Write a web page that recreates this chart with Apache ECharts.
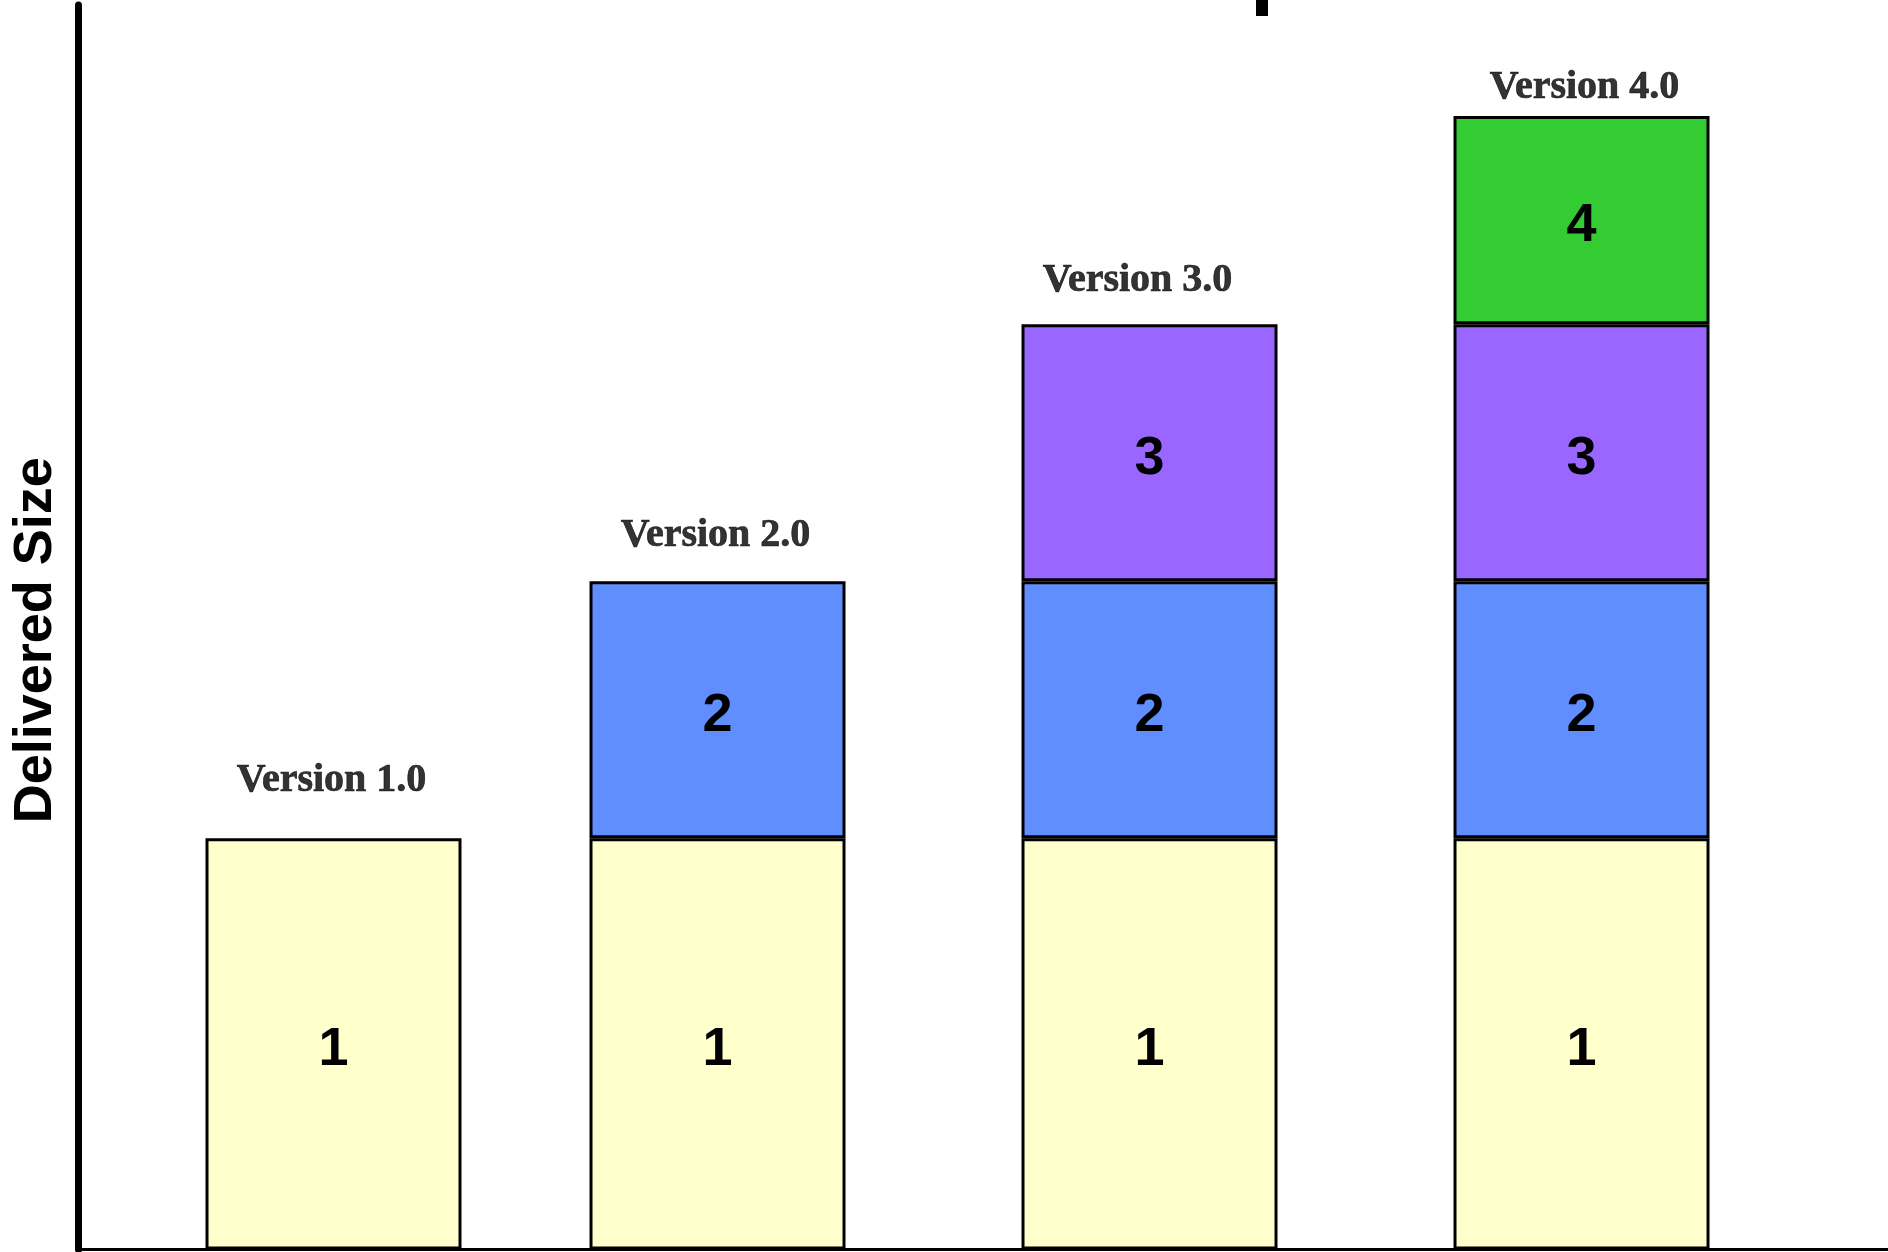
<!DOCTYPE html>
<html>
<head>
<meta charset="utf-8">
<script src="https://cdn.jsdelivr.net/npm/echarts@6/dist/echarts.min.js"></script>
<style>
  html, body { margin: 0; padding: 0; background: #ffffff; }
  #chart { width: 1888px; height: 1252px; }
</style>
</head>
<body>
<div id="chart"></div>
<script>
// ---- data ----
const versions = ['Version 1.0', 'Version 2.0', 'Version 3.0', 'Version 4.0'];
const releaseSlots = [0, 8, 17, 26];          // position of each release along the x axis
const componentNames = ['1', '2', '3', '4'];
const component1 = [8, 8, 8, 8];
const component2 = ['-', 5, 5, 5];
const component3 = ['-', '-', 5, 5];
const component4 = ['-', '-', '-', 4.05];
const yAxisTitle = 'Delivered Size';

// ---- styling (not data) ----
const segColors = ['#FFFFCC', '#618EFF', '#9966FF', '#33CC33'];
const versionLabelGap = [38, 26, 24, 8];
const versionLabelShift = [-2, -2, -12, 3];

const components = [component1, component2, component3, component4];
const num = v => (typeof v === 'number' ? v : 0);
const totals = versions.map((_, i) => components.reduce((s, c) => s + num(c[i]), 0));

// data stored as [size, slot] so the size dimension is the stacked one
const barSeries = components.map((vals, k) => ({
  name: componentNames[k],
  type: 'bar',
  stack: 'size',
  barWidth: 256,
  encode: { x: 1, y: 0 },
  dimensions: ['size', 'slot'],
  data: vals.map((v, i) => [v, releaseSlots[i]]),
  itemStyle: { color: segColors[k], borderColor: '#000000', borderWidth: 3 },
  label: {
    show: true,
    position: 'inside',
    offset: [0, 6],
    formatter: () => componentNames[k],
    color: '#000000',
    fontFamily: "'Liberation Sans', Arial, sans-serif",
    fontWeight: 'bold',
    fontSize: 54
  },
  emphasis: { disabled: true },
  silent: true,
  animation: false
}));

const versionSeries = {
  type: 'scatter',
  symbolSize: 0,
  silent: true,
  animation: false,
  data: versions.map((name, i) => ({
    value: [releaseSlots[i], totals[i]],
    name: name,
    label: { distance: versionLabelGap[i], offset: [versionLabelShift[i], 0] }
  })),
  label: {
    show: true,
    position: 'top',
    formatter: p => p.name,
    color: '#000000',
    textBorderColor: '#000000',
    textBorderWidth: 0.7,
    fontFamily: "'Liberation Serif', 'Times New Roman', serif",
    fontWeight: 'bold',
    fontSize: 40
  },
  z: 5
};

const chart = echarts.init(document.getElementById('chart'), null, { renderer: 'canvas' });
chart.setOption({
  backgroundColor: '#ffffff',
  animation: false,
  grid: { left: 78, right: 0, top: 5, bottom: 2.5 },
  xAxis: {
    type: 'value',
    min: -5.323,
    max: 32.385,
    axisLine: { show: true, onZero: false, lineStyle: { color: '#000000', width: 3 } },
    axisTick: { show: false },
    axisLabel: { show: false },
    splitLine: { show: false }
  },
  yAxis: {
    type: 'value',
    min: 0,
    max: 24.21,
    name: yAxisTitle,
    nameLocation: 'middle',
    nameGap: 15,
    nameRotate: 90,
    nameTextStyle: {
      fontFamily: "'Liberation Sans Narrow', 'Arial Narrow', 'Liberation Sans', sans-serif",
      fontWeight: 'bold',
      fontSize: 54,
      color: '#000000',
      padding: [0, 26, 0, 0]
    },
    axisLine: { show: true, onZero: false, lineStyle: { color: '#000000', width: 7 } },
    axisTick: { show: false },
    axisLabel: { show: false },
    splitLine: { show: false }
  },
  graphic: [{
    type: 'rect',
    shape: { x: 1256, y: 0, width: 12, height: 16 },
    style: { fill: '#000000' },
    silent: true
  }],
  series: barSeries.concat([versionSeries])
});
</script>
</body>
</html>
